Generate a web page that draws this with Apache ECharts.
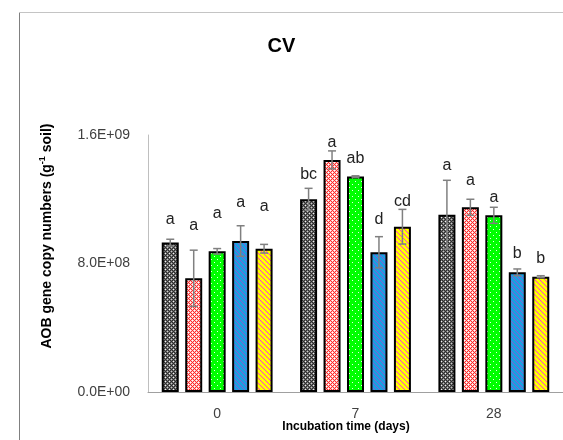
<!DOCTYPE html>
<html><head><meta charset="utf-8">
<script src="https://cdn.jsdelivr.net/npm/echarts@6/dist/echarts.min.js"></script>
<style>html,body{margin:0;padding:0;background:#fff}#c{width:563px;height:440px}</style>
</head><body><div id="c"></div>
<script>
// ---- data ----
const categories = ['0', '7', '28'];
const s1 = [0.930e9, 1.200e9, 1.104e9];
const s2 = [0.708e9, 1.445e9, 1.150e9];
const s3 = [0.876e9, 1.341e9, 1.100e9];
const s4 = [0.940e9, 0.870e9, 0.745e9];
const s5 = [0.892e9, 1.029e9, 0.718e9];
const e1 = [0.021e9, 0.068e9, 0.214e9];
const e2 = [0.175e9, 0.056e9, 0.050e9];
const e3 = [0.017e9, 0.005e9, 0.050e9];
const e4 = [0.095e9, 0.097e9, 0.021e9];
const e5 = [0.027e9, 0.108e9, 0.006e9];
const l1 = ['a', 'bc', 'a'];
const l2 = ['a', 'a', 'a'];
const l3 = ['a', 'ab', 'a'];
const l4 = ['a', 'd', 'b'];
const l5 = ['a', 'cd', 'b'];
const p1 = [1.071e9, 1.351e9, 1.407e9];
const p2 = [1.034e9, 1.552e9, 1.316e9];
const p3 = [1.108e9, 1.455e9, 1.210e9];
const p4 = [1.177e9, 1.075e9, 0.859e9];
const p5 = [1.154e9, 1.185e9, 0.832e9];
const yTicks = [0, 0.8e9, 1.6e9];

const values = [s1, s2, s3, s4, s5];
const errors = [e1, e2, e3, e4, e5];
const letters = [l1, l2, l3, l4, l5];
const letterPos = [p1, p2, p3, p4, p5];

// ---- patterns ----
function tile(w, h, base, fn) {
  const c = document.createElement('canvas');
  c.width = w; c.height = h;
  const g = c.getContext('2d');
  g.fillStyle = base; g.fillRect(0, 0, w, h);
  for (let y = 0; y < h; y++) for (let x = 0; x < w; x++) {
    const col = fn(x, y);
    if (col) { g.fillStyle = col; g.fillRect(x, y, 1, 1); }
  }
  return { image: c, repeat: 'repeat' };
}
const patterns = [
  tile(4, 4, '#707070', (x, y) => (x === 1 && y === 1) ? '#f4f4f4' : (x === 3 && y === 3) ? '#c8c8c8' : ((x + y) % 2 === 0 ? '#2e2e2e' : null)),
  tile(4, 4, '#ffc0c0', (x, y) => ((x === 0 && y === 0) || (x === 2 && y === 2)) ? '#ffffff' : ((x + y) % 2 === 0 ? '#ff2a2a' : null)),
  tile(6, 6, '#00ff00', (x, y) => ((x === 1 && y === 1) || (x === 4 && y === 4)) ? '#e8ffe8' : null),
  tile(5, 5, '#1b9fe2', (x, y) => ((x - y + 10) % 5 === 0) ? '#8a5ad0' : null),
  tile(5, 5, '#ffff00', (x, y) => ((x - y + 10) % 5 === 0) ? '#ff33dd' : null)
];

const BAR_W = 17, BAR_GAP = 0.38;
const PITCH = BAR_W * (1 + BAR_GAP);

function fmt(v) {
  if (v === 0) return '0.0E+00';
  const e = Math.floor(Math.log10(v) + 1e-9);
  const m = v / Math.pow(10, e);
  return m.toFixed(1) + 'E+' + String(e).padStart(2, '0');
}

function makeRender(i) {
  return function (params, api) {
    const j = api.value(0);
    const v = api.value(1), er = api.value(2);
    const off = (i - 2) * PITCH;
    const t = api.coord([j, v + er]);
    const b = api.coord([j, v - er]);
    const lp = api.coord([j, api.value(3)]);
    const x = t[0] + off;
    const st = { stroke: '#808080', lineWidth: 1.5 };
    return {
      type: 'group', children: [
        { type: 'line', shape: { x1: x, y1: t[1], x2: x, y2: b[1] }, style: st },
        { type: 'line', shape: { x1: x - 4, y1: t[1], x2: x + 4, y2: t[1] }, style: st },
        { type: 'line', shape: { x1: x - 4, y1: b[1], x2: x + 4, y2: b[1] }, style: st },
        { type: 'text', x: x, y: lp[1], style: { text: letters[i][params.dataIndex], align: 'center', verticalAlign: 'middle', fontSize: 16, fontFamily: 'Liberation Sans, sans-serif', fill: '#222' } }
      ]
    };
  };
}

const series = [];
values.forEach((vals, i) => {
  series.push({
    type: 'bar', name: 'T' + (i + 1), data: vals, barWidth: BAR_W, barGap: (BAR_GAP * 100) + '%',
    itemStyle: { color: patterns[i], borderColor: '#000', borderWidth: 2 }, z: 2
  });
});
values.forEach((vals, i) => {
  series.push({
    type: 'custom', renderItem: makeRender(i), z: 5,
    data: categories.map((c, j) => [j, vals[j], errors[i][j], letterPos[i][j]])
  });
});

const chart = echarts.init(document.getElementById('c'), null, { renderer: 'canvas' });
chart.setOption({
  animation: false,
  backgroundColor: '#fff',
  title: { text: 'CV', left: 'center', top: 31, textStyle: { fontSize: 20, fontWeight: 'bold', color: '#000', fontFamily: 'Liberation Sans, sans-serif' } },
  grid: { left: 148, right: 0, top: 135, bottom: 48, containLabel: false },
  xAxis: {
    type: 'category', data: categories,
    axisLine: { show: true, lineStyle: { color: '#a0a0a0', width: 1 } },
    axisTick: { show: false },
    axisLabel: { margin: 15, fontSize: 14, color: '#404040', fontFamily: 'Liberation Sans, sans-serif' }
  },
  yAxis: {
    type: 'value', min: yTicks[0], max: yTicks[2], interval: yTicks[1] - yTicks[0],
    axisLine: { show: true, lineStyle: { color: '#bfbfbf', width: 1 } },
    axisTick: { show: false },
    splitLine: { show: false },
    axisLabel: { margin: 18, fontSize: 14, color: '#404040', fontFamily: 'Liberation Sans, sans-serif', formatter: fmt }
  },
  graphic: [
    { type: 'line', shape: { x1: 19.5, y1: 12, x2: 19.5, y2: 440 }, style: { stroke: '#808080', lineWidth: 1 } },
    { type: 'line', shape: { x1: 19, y1: 12.5, x2: 563, y2: 12.5 }, style: { stroke: '#c4c4c4', lineWidth: 1 } },
    { type: 'text', x: 47, y: 236, rotation: Math.PI / 2,
      style: { text: '{b|AOB gene copy numbers (g}{s|-1}{b| soil)}', align: 'center', verticalAlign: 'middle',
        rich: { b: { fontSize: 14, fontWeight: 'bold', fontFamily: 'Liberation Sans, sans-serif', fill: '#000', lineHeight: 17 },
                s: { fontSize: 9, fontWeight: 'bold', fontFamily: 'Liberation Sans, sans-serif', fill: '#000', verticalAlign: 'top', lineHeight: 17 } } } },
    { type: 'text', x: 346, y: 427,
      style: { text: 'Incubation time (days)', align: 'center', verticalAlign: 'middle', fontSize: 12, fontWeight: 'bold', fontFamily: 'Liberation Sans, sans-serif', fill: '#000' } }
  ],
  series: series
});
</script></body></html>
